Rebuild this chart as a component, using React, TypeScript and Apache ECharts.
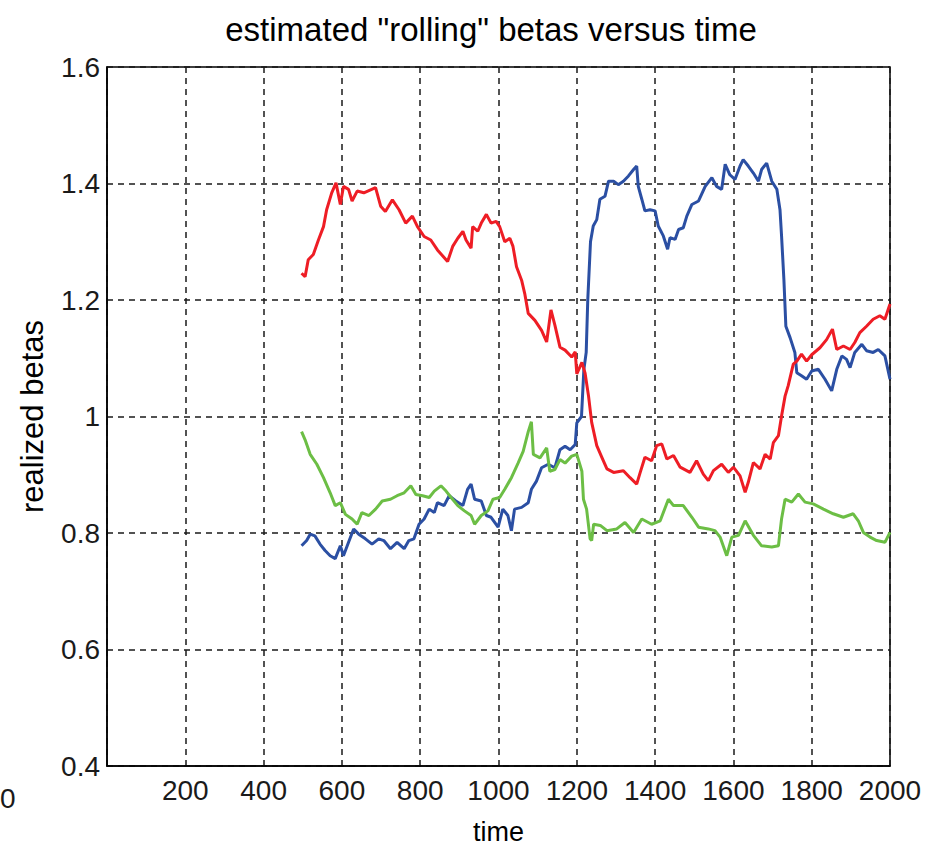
import React, { useEffect, useRef } from "react";
import * as echarts from "echarts";

const chartTitle = 'estimated "rolling" betas versus time';
const xAxisName = "time";
const yAxisName = "realized betas";

const timeRed = [497, 506, 514, 527, 540, 553, 561, 574, 585, 596, 604, 617, 626, 639, 656, 686, 699, 711, 729, 746, 763, 780, 793, 810, 827, 844, 870, 883, 896, 909, 917, 930, 934, 947, 956, 969, 981, 994, 1003, 1016, 1029, 1037, 1046, 1059, 1067, 1076, 1093, 1110, 1123, 1134, 1144, 1157, 1170, 1187, 1196, 1200, 1213, 1221, 1230, 1238, 1251, 1264, 1277, 1294, 1319, 1336, 1353, 1362, 1374, 1391, 1404, 1417, 1430, 1447, 1464, 1489, 1506, 1523, 1536, 1549, 1570, 1587, 1600, 1617, 1630, 1638, 1651, 1668, 1681, 1694, 1702, 1715, 1723, 1732, 1740, 1753, 1762, 1774, 1787, 1800, 1821, 1838, 1853, 1864, 1881, 1898, 1910, 1923, 1940, 1957, 1974, 1987, 2000];
const betaRed = [1.246, 1.24, 1.269, 1.278, 1.303, 1.326, 1.355, 1.384, 1.401, 1.364, 1.395, 1.39, 1.37, 1.387, 1.384, 1.393, 1.361, 1.352, 1.372, 1.355, 1.332, 1.344, 1.326, 1.309, 1.303, 1.286, 1.266, 1.292, 1.306, 1.318, 1.303, 1.289, 1.326, 1.318, 1.332, 1.347, 1.332, 1.335, 1.326, 1.3, 1.306, 1.292, 1.257, 1.234, 1.211, 1.177, 1.165, 1.148, 1.128, 1.183, 1.157, 1.119, 1.114, 1.102, 1.111, 1.073, 1.093, 1.075, 1.035, 0.99, 0.95, 0.93, 0.91, 0.904, 0.907, 0.895, 0.884, 0.904, 0.93, 0.924, 0.95, 0.953, 0.927, 0.933, 0.913, 0.904, 0.924, 0.901, 0.89, 0.907, 0.918, 0.904, 0.913, 0.898, 0.87, 0.887, 0.921, 0.91, 0.935, 0.927, 0.955, 0.967, 1.001, 1.035, 1.053, 1.09, 1.095, 1.107, 1.095, 1.106, 1.118, 1.132, 1.15, 1.115, 1.121, 1.115, 1.127, 1.144, 1.155, 1.167, 1.173, 1.167, 1.193];

const timeBlue = [497, 510, 519, 531, 544, 557, 570, 583, 596, 604, 617, 630, 643, 660, 677, 694, 707, 724, 741, 759, 771, 784, 797, 810, 823, 836, 844, 861, 874, 891, 909, 921, 930, 939, 956, 969, 981, 999, 1011, 1024, 1033, 1041, 1059, 1076, 1084, 1097, 1110, 1127, 1144, 1157, 1170, 1183, 1196, 1200, 1212, 1218, 1224, 1228, 1235, 1242, 1251, 1259, 1272, 1281, 1294, 1306, 1319, 1332, 1345, 1353, 1357, 1366, 1374, 1387, 1400, 1408, 1421, 1432, 1438, 1451, 1460, 1472, 1481, 1494, 1511, 1528, 1545, 1557, 1570, 1579, 1591, 1604, 1617, 1625, 1638, 1651, 1664, 1672, 1685, 1698, 1711, 1719, 1723, 1729, 1734, 1745, 1757, 1762, 1774, 1787, 1800, 1817, 1834, 1851, 1864, 1877, 1889, 1898, 1910, 1928, 1940, 1957, 1970, 1987, 2000];
const betaBlue = [0.778, 0.787, 0.798, 0.795, 0.781, 0.77, 0.761, 0.756, 0.778, 0.761, 0.784, 0.807, 0.798, 0.79, 0.781, 0.79, 0.787, 0.773, 0.784, 0.773, 0.787, 0.79, 0.815, 0.824, 0.841, 0.835, 0.852, 0.847, 0.864, 0.855, 0.847, 0.875, 0.884, 0.858, 0.855, 0.83, 0.827, 0.81, 0.841, 0.83, 0.804, 0.841, 0.844, 0.852, 0.875, 0.889, 0.912, 0.918, 0.912, 0.943, 0.949, 0.943, 0.952, 0.989, 1.0, 1.08, 1.11, 1.2, 1.3, 1.327, 1.338, 1.373, 1.378, 1.404, 1.404, 1.398, 1.404, 1.413, 1.424, 1.43, 1.395, 1.373, 1.353, 1.355, 1.353, 1.327, 1.31, 1.287, 1.307, 1.304, 1.321, 1.324, 1.344, 1.364, 1.37, 1.395, 1.41, 1.395, 1.39, 1.433, 1.415, 1.407, 1.43, 1.441, 1.43, 1.418, 1.404, 1.424, 1.435, 1.404, 1.39, 1.355, 1.31, 1.235, 1.155, 1.135, 1.11, 1.075, 1.07, 1.064, 1.078, 1.081, 1.064, 1.044, 1.081, 1.104, 1.098, 1.084, 1.11, 1.124, 1.113, 1.11, 1.115, 1.104, 1.064];

const timeGreen = [497, 506, 519, 536, 553, 570, 583, 596, 609, 626, 639, 651, 669, 686, 703, 724, 741, 759, 776, 789, 806, 823, 836, 853, 866, 879, 896, 913, 930, 939, 956, 973, 986, 1003, 1016, 1033, 1050, 1063, 1076, 1084, 1089, 1106, 1123, 1131, 1144, 1157, 1170, 1187, 1200, 1213, 1217, 1225, 1234, 1238, 1243, 1260, 1277, 1302, 1323, 1345, 1366, 1391, 1413, 1434, 1447, 1472, 1494, 1511, 1536, 1553, 1566, 1583, 1596, 1613, 1630, 1651, 1672, 1698, 1715, 1723, 1732, 1749, 1766, 1783, 1804, 1830, 1855, 1881, 1906, 1919, 1932, 1949, 1966, 1987, 2000];
const betaGreen = [0.974, 0.96, 0.935, 0.918, 0.895, 0.869, 0.847, 0.852, 0.832, 0.824, 0.815, 0.835, 0.83, 0.841, 0.855, 0.858, 0.864, 0.869, 0.881, 0.866, 0.864, 0.861, 0.872, 0.881, 0.872, 0.861, 0.847, 0.838, 0.83, 0.815, 0.83, 0.838, 0.858, 0.861, 0.875, 0.895, 0.92, 0.94, 0.974, 0.991, 0.935, 0.929, 0.946, 0.906, 0.909, 0.926, 0.92, 0.932, 0.935, 0.906, 0.858, 0.841, 0.79, 0.787, 0.815, 0.813, 0.804, 0.807, 0.818, 0.801, 0.824, 0.815, 0.821, 0.858, 0.847, 0.847, 0.827, 0.81, 0.807, 0.804, 0.793, 0.761, 0.793, 0.796, 0.821, 0.796, 0.778, 0.776, 0.778, 0.824, 0.858, 0.853, 0.867, 0.853, 0.85, 0.841, 0.833, 0.827, 0.833, 0.821, 0.801, 0.793, 0.787, 0.784, 0.801];

const xTicks = { min: 0, max: 2000, interval: 200 };
const yTicks = { min: 0.4, max: 1.6, interval: 0.2 };

const zip = (ts: number[], vs: number[]) => ts.map((t, i) => [t, vs[i]]);

export default function App() {
  const ref = useRef<HTMLDivElement>(null);
  useEffect(() => {
    if (!ref.current) return;
    const chart = echarts.init(ref.current, null, { renderer: "svg" });
    const font = "'Liberation Sans', Arial, sans-serif";
    const lineBase = { type: "line", showSymbol: false, symbol: "none", animation: false };
    const gridLine = { show: true, lineStyle: { color: "#1a1a1a", width: 1.5, type: [6, 5] } };
    chart.setOption({
      animation: false,
      backgroundColor: "#ffffff",
      title: {
        text: chartTitle,
        left: 491,
        top: 13,
        padding: 0,
        textAlign: "center",
        textStyle: { fontFamily: font, fontSize: 33, fontWeight: "normal", color: "#000" },
      },
      grid: {
        left: 107,
        top: 67,
        width: 783,
        height: 700,
        show: true,
        borderColor: "#000",
        borderWidth: 1.5,
        containLabel: false,
      },
      xAxis: {
        type: "value",
        min: xTicks.min,
        max: xTicks.max,
        interval: xTicks.interval,
        name: xAxisName,
        nameLocation: "middle",
        nameGap: 52,
        nameTextStyle: { fontFamily: font, fontSize: 27, color: "#000" },
        axisLine: { show: true, lineStyle: { color: "#000", width: 1.5 } },
        axisTick: { show: false },
        axisLabel: {
          fontFamily: font,
          fontSize: 28,
          color: "#1a1a1a",
          margin: 10,
          formatter: (v: number) => (v === 0 ? "" : String(v)),
        },
        splitLine: gridLine,
      },
      yAxis: {
        type: "value",
        min: yTicks.min,
        max: yTicks.max,
        interval: yTicks.interval,
        name: yAxisName,
        nameLocation: "middle",
        nameGap: 59,
        nameRotate: 90,
        nameTextStyle: { fontFamily: font, fontSize: 31, color: "#000" },
        axisLine: { show: true, lineStyle: { color: "#000", width: 1.5 } },
        axisTick: { show: false },
        axisLabel: { fontFamily: font, fontSize: 28, color: "#1a1a1a", margin: 7 },
        splitLine: gridLine,
      },
      graphic: [
        {
          type: "text",
          x: 0,
          y: 798,
          style: { text: "0", fontFamily: font, fontSize: 28, fill: "#1a1a1a", textVerticalAlign: "middle" },
        },
      ],
      series: [
        { ...lineBase, name: "blue", data: zip(timeBlue, betaBlue), lineStyle: { color: "#2B4FA3", width: 3 }, itemStyle: { color: "#2B4FA3" }, z: 2 },
        { ...lineBase, name: "green", data: zip(timeGreen, betaGreen), lineStyle: { color: "#6CBE45", width: 3 }, itemStyle: { color: "#6CBE45" }, z: 3 },
        { ...lineBase, name: "red", data: zip(timeRed, betaRed), lineStyle: { color: "#EE1D25", width: 3 }, itemStyle: { color: "#EE1D25" }, z: 4 },
      ],
    });
    return () => chart.dispose();
  }, []);
  return (
    <div
      ref={ref}
      style={{ position: "fixed", left: 0, top: 0, width: 942, height: 850, background: "#fff" }}
    />
  );
}
